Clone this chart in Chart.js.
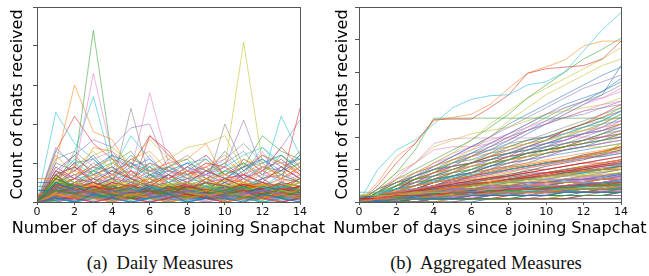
<!DOCTYPE html>
<html>
<head>
<meta charset="utf-8">
<script src="https://cdn.jsdelivr.net/npm/chart.js@4.4.1/dist/chart.umd.min.js"></script>
<style>
  body { margin:0; width:649px; height:276px; background:#fff; position:relative; overflow:hidden; font-family:"DejaVu Sans", sans-serif; }
  .plot { position:absolute; top:0; height:240px; }
  #boxA { left:0; width:320px; }
  #boxB { left:325px; width:324px; }
  .xt { position:absolute; top:218px; font-family:"DejaVu Sans", sans-serif; font-size:16px; line-height:19px; white-space:nowrap; color:#000; transform:translateX(-50%); }
  .cap { position:absolute; top:253px; font-family:"Liberation Serif", serif; font-size:18.5px; white-space:pre; color:#111; transform:translateX(-50%); }
</style>
</head>
<body>
<div class="plot" id="boxA"><canvas id="chartDaily"></canvas></div>
<div class="plot" id="boxB"><canvas id="chartAgg"></canvas></div>
<div class="xt" style="left:168.5px">Number of days since joining Snapchat</div>
<div class="xt" style="left:490px">Number of days since joining Snapchat</div>
<div class="cap" style="left:160px">(a)  Daily Measures</div>
<div class="cap" style="left:486px">(b)  Aggregated Measures</div>
<script>
// days since joining
const days = [0,1,2,3,4,5,6,7,8,9,10,11,12,13,14];
const xTicks = [0,2,4,6,8,10,12,14];
const tab10 = ['#1f77b4','#ff7f0e','#2ca02c','#d62728','#9467bd','#8c564b','#e377c2','#7f7f7f','#bcbd22','#17becf'];

// (a) daily counts, bottom mass of users
const dailyBase = [
  [0,1,0,2,1,0,1,2,0,1,1,0,2,1,0],
  [0,2,1,1,0,2,1,0,1,2,0,1,1,2,1],
  [0,3,2,1,2,1,3,2,1,2,3,1,2,1,3],
  [0,1,1,0,1,1,0,1,2,1,0,1,1,0,1],
  [0,2,3,2,1,3,2,1,3,2,1,2,3,2,1],
  [0,4,2,3,2,1,2,3,2,1,2,3,1,2,2],
  [0,1,2,1,0,1,2,1,1,0,1,2,1,1,2],
  [0,3,1,2,3,2,1,2,3,1,2,1,3,2,1],
  [0,2,2,3,1,2,2,1,2,3,2,2,1,3,2],
  [0,1,0,1,1,0,1,1,0,1,1,1,0,1,1],
  [0,5,3,2,3,2,4,2,3,2,3,2,4,3,2],
  [0,2,1,3,2,3,1,2,1,2,3,2,1,2,3],
  [0,1,3,2,1,2,1,3,2,1,2,1,2,3,1],
  [0,3,2,4,3,2,3,2,4,3,2,3,2,3,4],
  [0,0,1,0,1,0,0,1,0,1,0,1,0,0,1],
  [0,2,4,2,3,1,2,4,2,3,2,1,3,2,2],
  [0,1,2,2,3,2,1,2,2,1,3,2,2,1,2],
  [0,4,3,1,2,4,2,3,1,2,4,3,2,1,3],
  [0,2,1,2,1,1,2,1,2,2,1,2,1,2,1],
  [0,3,4,3,2,3,4,3,2,4,3,2,3,4,3],
  [0,1,1,2,2,1,1,2,1,1,2,1,1,2,2],
  [0,2,3,1,3,2,2,3,1,2,2,3,2,1,3],
  [0,6,4,2,3,3,2,4,3,2,3,4,2,3,2],
  [0,1,2,3,2,1,3,1,2,3,1,2,3,1,2],
  [0,2,0,1,2,1,1,0,1,2,1,1,2,0,1],
  [0,3,3,4,2,4,3,2,3,2,4,3,3,2,4],
  [0,1,1,1,2,2,1,1,1,2,1,2,1,1,1],
  [0,4,2,2,4,3,3,2,4,3,2,2,3,4,2],
  [0,2,3,2,2,3,1,3,2,2,3,2,1,3,2],
  [0,1,0,2,1,1,2,1,1,1,2,1,2,1,1],
  [0,3,2,1,2,2,3,2,2,3,1,2,2,3,2],
  [0,2,1,3,3,1,2,2,3,1,2,3,1,2,3],
  [0,5,4,3,4,3,2,3,4,3,4,2,3,4,3],
  [0,1,2,1,1,2,2,1,2,1,1,2,2,1,1],
  [0,2,2,2,3,2,3,3,2,2,3,2,3,2,3],
  [0,3,1,2,1,3,1,2,1,3,2,1,2,1,2],
  [0,1,3,3,2,2,1,2,3,2,2,3,1,2,2],
  [0,2,1,1,2,1,2,2,1,1,2,1,2,2,1],
  [0,4,3,2,3,4,2,3,3,4,2,3,4,2,3],
  [0,1,1,2,1,2,1,1,2,1,2,1,1,2,1],
  [3,3,2,3,2,3,2,2,3,2,3,2,3,2,2],
  [2,2,1,2,2,1,2,1,2,2,1,2,1,2,2],
  [0,2,4,3,2,2,3,2,3,3,2,4,2,3,2],
  [0,3,2,2,3,3,2,3,2,2,3,2,2,3,3],
  [0,1,2,1,2,1,1,2,1,2,1,2,1,1,2],
  [0,7,3,3,2,4,3,2,3,4,2,3,2,4,3],
  [0,2,2,1,1,2,2,2,1,2,2,1,2,2,1],
  [0,3,4,2,2,3,2,4,2,3,3,2,3,2,4],
  [0,1,1,1,1,1,2,1,1,1,1,1,2,1,1],
  [0,4,2,3,3,2,4,2,2,3,3,4,2,3,2]
];
// (a) daily counts, in-between values of the bottom mass
const dailyFill = [
  [0,1.5,2.5,1.5,2,3.5,1.5,2.5,3,1.5,2.5,3.5,2,1.5,2.5],
  [0,2.5,1.5,3.5,2.5,1.5,3,2.5,1.5,3.5,2,1.5,2.5,3,1.5],
  [0,0.5,1.5,1,0.5,1.5,1,0.5,1.5,1,0.5,1.5,1,0.5,1.5],
  [0,3.5,4.5,2.5,3.5,4,2.5,3.5,4.5,2.5,3,4.5,3.5,2.5,4],
  [0,1.5,0.5,1.5,2.5,1,1.5,2.5,1,1.5,0.5,2,1.5,2.5,1],
  [0,4.5,3.5,5,3.5,2.5,4.5,3,3.5,5,4,2.5,3.5,4.5,3],
  [0,2,2.5,1.5,3,2,2.5,1.5,2,3,2.5,1.5,2,2.5,3],
  [0,1,1.5,2.5,1,1.5,2,1,2.5,1.5,1,2,1.5,2.5,1],
  [0,5.5,3,2.5,4.5,3.5,3,4.5,2.5,3.5,4.5,3,4,2.5,3.5],
  [0,0.5,1,0.5,1,1.5,0.5,1,0.5,1.5,1,0.5,1,1.5,0.5],
  [0,3,2.5,3.5,1.5,2.5,3.5,2,3,2.5,1.5,3,3.5,2,2.5],
  [0,2.5,3.5,4.5,2.5,3,4,3.5,2.5,4,3,3.5,4.5,3,3.5],
  [0,1.5,2,1,2.5,1.5,1,2,1.5,1,2.5,1.5,2,1,1.5],
  [0,4,2.5,3,4.5,2,3.5,2.5,4,3,2.5,4,3,3.5,2.5],
  [0,0.5,0.5,1.5,0.5,1,1.5,0.5,1,0.5,1.5,0.5,1,1.5,0.5],
  [0,2,3,2,1.5,2.5,2,3,1.5,2.5,2,3,2.5,1.5,3],
  [0,3.5,1.5,2.5,3,1.5,2.5,3.5,2,1.5,3,2.5,1.5,3.5,2],
  [0,1,2.5,1.5,2,1,2.5,1.5,2,1,1.5,2.5,1,2,1.5],
  [0,6.5,5,3.5,4,5.5,3.5,4.5,3,4,5.5,3.5,4.5,3.5,5],
  [0,2.5,2,2.5,3.5,2,2.5,1.5,3,2,2.5,2,3,2.5,2],
  [0,1.5,1,2,1.5,2.5,1,1.5,2,1.5,1,2,1.5,1,2],
  [0,3,3.5,2,2.5,3,4,2.5,3.5,3,2,3.5,2.5,3,3.5],
  [0,0.5,2,1.5,1,0.5,1.5,2,0.5,1,1.5,1,0.5,2,1],
  [0,4.5,3,4,3,4.5,2.5,3.5,4,2.5,3.5,4.5,3,4,3],
  [0,2,1,1.5,2.5,1.5,2,1,1.5,2.5,2,1,2.5,1.5,2],
  [1.5,1.5,1,2,1.5,1,2,1.5,1,2,1.5,1,1.5,2,1.5],
  [0,3.5,2.5,3,2,3.5,3,2,2.5,3.5,3,2.5,2,3,2.5],
  [0,1,1.5,1,1.5,2,1,1.5,1,2,1.5,1,1.5,1,2],
  [0,5,4,3.5,5.5,4,3,4.5,5,3.5,4,5,3.5,4.5,4],
  [0,2.5,1.5,2,1,2,2.5,1.5,2,1,2.5,1.5,2,2.5,1.5]
];
// (a) daily counts, low band
const dailyLow = [
  [0,2,1,3,2,1,2,3,1,2,1,2,3,1,2],
  [0,4,3,5,2,3,4,2,3,1,2,3,2,4,3],
  [0,1,2,1,3,2,1,2,1,3,2,1,2,1,1],
  [0,6,4,3,5,4,2,3,4,2,3,5,3,2,4],
  [0,3,5,2,4,6,3,2,5,3,4,2,6,3,2],
  [0,8,5,6,3,4,5,7,4,3,6,4,5,3,6],
  [0,2,3,4,2,3,2,1,3,2,4,3,2,3,5],
  [0,5,7,4,6,3,5,4,6,5,3,4,6,7,5],
  [0,1,1,2,1,1,2,1,2,1,1,2,1,2,1],
  [0,3,2,6,4,2,3,5,2,4,3,2,4,3,2],
  [5,5,3,4,3,5,4,3,4,2,5,3,4,2,3],
  [6,6,4,5,7,4,6,5,3,4,6,5,4,6,5],
  [4,4,3,2,4,3,2,4,3,5,2,3,4,2,3],
  [0,7,9,5,8,6,4,7,5,8,6,7,5,9,6],
  [0,2,4,3,1,2,3,2,4,3,2,1,3,2,4],
  [0,4,2,3,5,3,2,4,2,3,5,2,3,4,2],
  [0,9,6,4,7,5,8,6,9,7,5,6,8,5,7],
  [0,1,3,2,2,4,1,3,2,2,1,3,2,3,2],
  [0,3,4,7,3,5,6,3,4,6,3,5,4,3,6],
  [0,5,3,2,4,2,3,2,5,2,3,4,2,5,3],
  [0,2,2,1,2,3,2,2,1,2,3,2,1,2,2],
  [0,6,8,6,10,7,5,6,8,6,7,5,8,6,9],
  [0,3,1,2,3,1,2,3,2,1,2,3,1,2,3],
  [0,4,6,5,3,8,4,5,3,6,4,7,5,4,6],
  [0,1,2,3,1,2,1,2,3,1,2,1,2,1,2],
  [0,2,5,4,6,3,7,4,5,3,6,4,3,5,4],
  [0,5,4,6,5,4,3,6,4,5,4,3,5,4,3],
  [0,1,0,1,2,1,0,1,1,2,1,0,1,1,0],
  [0,3,3,2,3,4,3,2,3,3,2,4,3,2,3],
  [0,7,4,8,5,6,9,5,7,4,8,6,4,7,5],
  [0,2,1,2,1,2,1,1,2,1,2,1,2,1,2],
  [0,4,5,3,4,2,5,3,4,6,3,4,5,3,4],
  [0,0,1,1,0,1,1,0,1,0,1,1,0,1,1],
  [0,6,3,4,6,5,3,4,2,5,4,6,3,5,4],
  [0,2,3,2,4,2,3,4,2,3,2,3,4,2,3],
  [0,3,2,4,3,2,4,2,3,2,4,2,3,4,2],
  [0,8,6,9,4,7,5,8,6,7,9,5,7,6,8],
  [0,1,2,2,1,3,2,1,2,2,1,2,2,1,2],
  [0,5,6,3,5,4,6,3,5,4,3,6,4,5,3],
  [0,2,4,5,3,2,4,3,2,4,3,2,5,3,4]
];
// (a) daily counts, middle band
const dailyMid = [
  [0,10,8,12,6,9,11,7,10,8,6,9,11,8,12],
  [0,12,7,9,11,5,8,10,6,9,12,7,10,6,9],
  [0,6,11,8,10,13,7,9,11,6,8,10,7,12,8],
  [0,8,12,7,9,6,10,8,7,10,9,6,8,11,7],
  [0,14,9,6,8,10,6,11,8,7,5,8,12,9,6],
  [0,9,6,10,7,11,9,6,9,12,7,10,6,8,13],
  [0,5,8,11,13,7,12,6,8,9,11,7,9,10,8],
  [0,11,13,9,7,8,6,9,12,8,10,13,7,9,11],
  [0,7,9,13,8,6,9,12,7,5,8,11,9,7,10],
  [0,13,10,7,12,9,7,8,10,11,6,9,10,12,9],
  [0,8,6,9,12,10,8,6,9,7,13,8,11,7,12],
  [0,6,9,7,6,11,13,8,6,10,7,9,12,10,7]
];
// (a) daily counts, users with spikes
const dailyPeaks = [
  [0,3,9,44,11,6,4,7,3,5,2,4,6,3,5],
  [0,2,4,3,5,3,6,4,5,8,9,41,10,6,4],
  [0,5,8,33,12,6,9,4,3,6,5,7,3,4,6],
  [0,10,30,18,16,8,5,6,4,3,6,4,5,3,7],
  [0,4,13,27,9,5,7,6,3,4,5,8,4,6,5],
  [0,23,15,11,6,7,10,5,6,3,4,3,6,22,12],
  [0,13,22,15,11,9,17,12,8,5,6,4,3,5,24],
  [0,2,5,7,4,24,6,3,5,4,20,9,6,8,5],
  [0,3,4,6,5,8,28,10,5,12,7,6,13,5,9],
  [0,7,12,16,14,19,20,8,10,6,9,21,8,14,21],
  [0,6,10,5,4,3,17,13,7,9,5,11,8,14,9],
  [0,5,8,12,14,10,16,11,14,15,17,8,12,10,7],
  [0,4,6,14,13,9,8,10,11,15,6,5,9,7,10],
  [0,3,5,8,6,10,7,5,8,11,7,9,17,13,11],
  [0,6,10,11,7,12,8,9,6,7,10,6,9,8,10],
  [0,4,6,9,8,17,11,6,9,5,8,7,14,9,6],
  [0,5,7,8,12,6,5,9,7,8,11,15,10,12,8],
  [0,3,6,7,9,4,6,8,5,7,9,12,14,10,11]
];
const dailyPeakColors = [2,8,6,1,9,9,3,7,6,4,3,8,1,2,0,9,7,9];

// (b) cumulative counts, bottom mass of users
const aggBase = [
  [0,0,1,1,1,1,2,2,2,2,2,3,3,3,3],
  [0,1,1,1,2,2,2,3,3,3,3,4,4,4,5],
  [0,0,0,1,1,1,1,1,1,2,2,2,2,2,3],
  [1,1,2,2,2,3,3,3,4,4,4,5,5,5,6],
  [0,1,1,2,2,2,3,3,4,4,4,5,5,6,6],
  [0,0,0,0,0,0,1,1,1,1,1,1,1,1,1],
  [0,1,2,2,2,3,3,4,4,5,5,5,6,6,7],
  [0,0,1,1,1,2,2,2,2,3,3,3,3,4,4],
  [2,2,2,3,3,3,3,4,4,4,5,5,5,5,6],
  [0,1,1,1,1,2,2,2,3,3,3,3,4,4,4],
  [0,0,0,1,1,1,1,2,2,2,2,2,3,3,3],
  [0,1,2,3,3,3,4,4,5,5,6,6,6,7,7],
  [0,0,1,1,2,2,2,2,2,3,3,3,4,4,4],
  [1,1,1,1,2,2,2,2,3,3,3,3,3,4,4],
  [0,0,0,0,1,1,1,1,1,1,2,2,2,2,2],
  [0,1,1,2,2,3,3,3,4,4,5,5,5,6,6],
  [0,0,1,1,1,1,1,2,2,2,2,2,2,3,3],
  [0,1,2,2,3,3,4,4,4,5,5,6,6,7,7],
  [0,0,0,0,0,1,1,1,1,1,1,2,2,2,2],
  [0,1,1,1,2,2,2,3,3,3,4,4,4,4,5],
  [1,2,2,3,3,3,4,4,5,5,5,6,6,6,7],
  [0,0,1,1,1,2,2,2,3,3,3,3,3,4,4],
  [0,1,1,2,2,2,3,3,3,4,4,4,5,5,5],
  [0,0,0,1,1,1,1,1,2,2,2,2,2,2,3],
  [0,1,2,2,3,4,4,5,5,6,6,7,7,7,8],
  [0,0,0,0,1,1,1,1,1,1,1,1,2,2,2],
  [0,1,1,1,1,1,2,2,2,2,3,3,3,3,3],
  [2,2,3,3,3,4,4,4,5,5,5,6,6,6,7],
  [0,0,1,1,2,2,2,3,3,3,3,4,4,4,5],
  [0,1,1,2,2,3,3,4,4,4,5,5,6,6,6],
  [0,0,0,0,0,0,0,1,1,1,1,1,1,1,1],
  [0,1,2,2,2,3,3,3,4,4,4,5,5,5,6],
  [0,0,1,1,1,1,2,2,2,2,3,3,3,3,4],
  [1,1,1,2,2,2,2,3,3,3,3,4,4,4,4],
  [0,1,1,2,3,3,3,4,4,5,5,5,6,6,7],
  [0,0,0,1,1,1,2,2,2,2,2,3,3,3,3],
  [0,1,2,3,3,4,4,4,5,5,6,6,7,7,8],
  [0,0,1,1,1,2,2,2,2,2,3,3,3,3,3],
  [0,1,1,1,2,2,2,2,3,3,3,4,4,4,4],
  [0,0,0,0,1,1,1,2,2,2,2,2,2,2,3]
];
// (b) cumulative counts, in-between values of the bottom mass
const aggFill = [
  [0,0.5,1,1.5,2.5,3,3.5,4,4.5,5.5,6,6.5,7,7.5,8.5],
  [0,1.5,2.5,3,3.5,4.5,5,6,6.5,7,8,8.5,9.5,10,10.5],
  [0.5,1,1.5,2,2.5,2.5,3,3.5,3.5,4,4.5,4.5,5,5.5,5.5],
  [0,1,2.5,3.5,4.5,5.5,6.5,7.5,8,9,10,11,12,13,14],
  [0,0.5,0.5,1,1.5,1.5,2,2.5,2.5,3,3.5,3.5,4,4,4.5],
  [1.5,2,2.5,3.5,4,5,5.5,6,7,7.5,8,9,9.5,10,11],
  [0,1.5,3,4,5,6,7.5,8.5,9.5,10.5,11.5,12.5,13.5,14.5,15.5],
  [0,0.5,1,1,1.5,2,2,2.5,3,3,3.5,3.5,4,4.5,5.5],
  [0,1,1.5,2.5,3,4,4.5,5.5,6,6.5,7.5,8,8.5,9.5,10],
  [0.5,1,2,2.5,3.5,4,5,5.5,6.5,7,8,8.5,9,10,11.5],
  [0,0.5,1,2,2.5,3,3.5,3.5,4,4.5,5,5,5.5,6,6.5],
  [0,2,3.5,5,6,7,8,9.5,10.5,11.5,12.5,13,14,15.5,16.5],
  [0,1,1.5,2,2,2.5,3,3.5,4,4,4.5,5,5.5,5.5,6],
  [0,0.5,1.5,2.5,3.5,4.5,5.5,6,7,8,9,9.5,10.5,11.5,12.5],
  [1,1.5,2,2.5,3,3.5,4,4.5,4.5,5,5.5,6,6.5,7,7.5],
  [0,1,2,3,4.5,5.5,6.5,7.5,8.5,9.5,11,12,13,14.5,16],
  [0,0.5,0.5,1,1,1.5,1.5,2,2,2.5,2.5,3,3,3.5,3.5],
  [0,1.5,2.5,3.5,4.5,5,6,7,7.5,8.5,9,10,10.5,11.5,12],
  [0.5,1,1.5,2,3,3.5,4,5,5.5,6,6.5,7,8,8.5,9],
  [0,2.5,4,5,6.5,7.5,8.5,9,10,11,12,12.5,13.5,14,15],
  [0,0.5,1,1.5,2,2,2.5,3,3.5,4,4,4.5,5,5,5.5],
  [0,1,2,3,3.5,4.5,5.5,6.5,7,8,9,10,11,12,13],
  [1.5,1.5,2,2.5,2.5,3,3.5,3.5,4,4.5,4.5,5,5.5,5.5,6],
  [0,1,1.5,2.5,3.5,4,5,6,7,7.5,8.5,9.5,10,11,11.5],
  [0,0.5,1,1,1.5,1.5,2,2.5,2.5,3,3,3.5,4,4,4.5],
  [0,2,3,4,5,6.5,7.5,8.5,10,11,12,13,14.5,15.5,17],
  [0,1,1.5,2,3,3.5,4,4.5,5,6,6.5,7,7.5,8,8.5],
  [0.5,1,2,3,3.5,4.5,5,6,6.5,7.5,8,9,9.5,10.5,11],
  [0,1.5,2.5,4,5,6,7,8,9,10.5,11.5,12.5,13.5,14.5,18],
  [0,0.5,1,1.5,1.5,2,2.5,3,3,3.5,4,4.5,4.5,5,6.5]
];
// (b) cumulative counts, low band
const aggLow = [
  [0,1,1,2,3,3,4,4,5,6,6,7,7,8,9],
  [0,0,1,1,1,2,2,2,3,3,3,4,4,4,5],
  [0,1,2,3,4,4,5,6,7,7,8,9,10,10,11],
  [0,0,0,1,1,1,1,2,2,2,2,3,3,3,3],
  [1,2,3,3,4,5,6,6,7,8,8,9,10,11,12],
  [0,1,1,2,2,3,3,3,4,4,5,5,5,6,6],
  [0,1,2,2,3,4,4,5,5,6,7,7,8,8,9],
  [2,2,3,3,4,4,5,5,6,6,6,7,7,8,8],
  [0,0,1,1,2,2,2,3,3,3,4,4,4,5,5],
  [0,1,2,3,3,4,5,6,6,7,8,9,9,10,11],
  [0,0,0,0,1,1,1,1,1,2,2,2,2,2,2],
  [0,1,1,2,3,3,4,5,5,6,6,7,8,8,9],
  [1,1,2,2,2,3,3,4,4,4,5,5,6,6,6],
  [0,1,2,4,5,6,7,7,8,9,10,11,12,12,13],
  [0,0,1,1,1,1,2,2,2,2,3,3,3,3,4],
  [0,1,1,1,2,2,3,3,3,4,4,4,5,5,5],
  [0,2,3,4,4,5,6,7,7,8,9,9,10,11,12],
  [0,0,0,1,1,1,2,2,2,3,3,3,3,4,4],
  [0,1,2,2,3,3,4,4,5,5,6,6,7,7,8],
  [3,3,4,4,5,5,5,6,6,7,7,7,8,8,9],
  [0,0,1,2,2,3,3,4,4,5,5,5,6,6,7],
  [0,1,1,1,1,2,2,2,2,3,3,3,3,3,4],
  [0,1,3,4,5,5,6,7,8,8,9,10,11,11,12],
  [0,0,0,0,0,1,1,1,1,1,1,1,2,2,2],
  [0,1,2,3,3,4,4,5,6,6,7,8,8,9,10],
  [0,0,1,1,2,2,3,3,4,4,4,5,5,6,6],
  [1,1,1,2,2,2,3,3,3,3,4,4,4,4,5],
  [0,1,2,2,3,4,5,5,6,7,7,8,9,9,10],
  [0,0,0,1,1,1,1,1,2,2,2,2,2,3,3],
  [0,1,2,3,4,4,5,6,6,7,8,8,9,10,10],
  [0,0,1,1,1,2,2,3,3,3,4,4,5,5,5],
  [2,3,3,4,4,5,6,6,7,7,8,8,9,10,10],
  [0,0,0,0,1,1,1,1,1,1,1,2,2,2,2],
  [0,1,1,2,2,3,3,4,4,5,5,6,6,7,7],
  [0,1,2,3,5,6,6,7,8,9,9,10,11,12,13],
  [0,0,1,1,1,1,2,2,2,3,3,3,4,4,4],
  [0,1,1,2,3,3,3,4,5,5,6,6,6,7,8],
  [0,0,0,1,1,2,2,2,3,3,3,3,4,4,4],
  [1,2,2,3,3,4,4,5,5,5,6,6,7,7,8],
  [0,0,1,1,2,2,2,2,3,3,3,4,4,4,5]
];
// (b) cumulative counts, middle band
const aggMid = [
  [0,2,4,5,7,8,9,11,12,13,15,16,17,19,20],
  [0,1,3,5,6,7,9,10,11,12,13,14,15,16,17],
  [0,3,5,7,8,9,10,12,13,15,16,17,18,19,21],
  [0,2,3,4,6,7,8,9,10,11,12,13,14,14,15],
  [0,1,2,4,5,7,8,10,11,13,14,16,17,18,19],
  [0,3,6,8,10,11,12,13,14,15,16,17,18,19,20],
  [0,2,4,5,6,8,9,10,12,13,14,16,18,20,22],
  [0,1,2,3,5,5,6,7,8,10,10,11,12,13,14],
  [0,2,5,7,9,10,11,12,13,14,15,16,17,17,18],
  [0,4,6,8,10,11,12,13,15,16,17,18,19,21,23],
  [0,1,3,4,5,7,8,9,11,12,14,15,16,17,18],
  [0,2,3,5,7,9,11,12,13,14,15,17,19,21,24],
  [0,3,4,6,7,8,9,10,11,11,12,13,14,15,16],
  [0,2,4,7,9,11,12,14,15,16,17,18,19,20,21],
  [0,1,3,5,7,8,9,11,13,14,15,16,17,18,19],
  [0,2,3,4,5,6,8,9,10,11,12,13,14,15,17],
  [0,2,4,6,8,9,11,13,14,15,17,19,21,23,25],
  [0,1,3,4,6,8,10,12,14,15,16,18,20,22,24],
  [0,3,6,8,10,12,13,14,16,18,19,20,22,24,27],
  [0,2,3,5,6,8,10,13,15,17,19,21,23,25,28],
  [0,1,2,4,6,7,9,11,13,16,18,20,21,23,26],
  [0,4,7,9,11,13,14,15,17,18,19,21,22,23,24],
  [0,2,5,7,8,10,12,14,17,19,20,22,24,26,29],
  [0,1,2,3,5,7,9,12,14,17,19,22,24,27,30],
  [0,3,5,6,8,10,11,13,15,16,18,19,21,22,23],
  [0,2,4,5,7,9,10,12,13,15,16,18,19,21,22],
  [0,1,3,6,9,11,12,14,16,17,18,20,21,22,25],
  [0,2,4,6,9,12,14,16,18,19,21,23,25,27,29],
  [0,3,4,6,7,9,12,14,15,16,18,20,23,25,26],
  [0,1,2,4,5,6,8,10,13,15,17,20,22,24,27],
  [0,2,5,8,10,12,13,15,16,18,20,21,23,25,28],
  [0,1,3,5,6,8,9,11,12,14,15,17,18,19,21],
  [0,2,3,4,6,8,9,11,13,14,16,17,19,20,22],
  [0,4,6,7,9,10,12,13,15,17,19,22,24,26,28],
  [0,1,2,3,4,6,8,10,12,14,17,19,21,24,27],
  [0,2,5,6,7,9,11,12,14,15,16,17,19,21,23],
  [0,1,3,5,7,10,12,14,16,18,20,22,24,25,26],
  [0,3,6,9,11,13,15,16,17,19,20,22,23,24,25],
  [0,2,4,5,7,8,9,10,12,13,15,16,17,18,20],
  [0,1,2,4,6,8,10,11,13,15,16,17,18,20,21],
  [0,2,3,5,8,10,12,14,15,17,18,19,21,22,24]
];
// (b) cumulative counts, heaviest users
const aggTop = [
  [0,10,16,19,24,29,31.6,32.7,33,36,37,40,46.5,53,58.3],
  [0,5,12,18,25.4,25.5,25.5,29,33,39.6,41,41.5,42,44,49.5],
  [0,6,14,18,25,26,27,30,35,39.6,41.6,43.7,48,49.5,49.5],
  [0,3,7,10,13,16,19,23,27,32,36,40,44,47,50.4],
  [0,4,9,16,25.8,25.8,25.8,25.8,25.8,25.8,25.8,25.8,25.8,25.8,25.8],
  [0,2,5,9,12,15,19,24,28,32,35,38,41,44,47.5],
  [0,2,4,6,9,13,16,20,25,29,33,36,39,42,44],
  [0,2,5,8,11,14,17,20,24,27,30,33,36,39,41.5],
  [0,1,4,7,9,12,15,18,21,24,27,30,32,34,37],
  [0,3,8,12,16,17,17,18,20,22,24,27,30,32,35],
  [0,2,5,8,12,15,17,19,21,23,25,26,28,30,31],
  [0,1,3,6,9,11,14,17,19,22,24,26,27,29,31],
  [0,2,4,7,10,13,15,17,20,22,24,26,28,29,30],
  [0,4,9,12,17,19,21,22,23,25,27,28,29,30,32],
  [0,3,7,12,18,19.5,19.7,19.7,19.7,19.7,20,20,20,20,20],
  [0,2,4,7,11,14,17,20,23,26,29,32,35,37,39],
  [0,1,3,5,8,11,14,17,20,23,26,29,31,33,36],
  [0,3,6,9,12,14,16,18,21,24,27,29,31,32,34],
  [0,2,5,8,10,12,14,16,19,22,25,28,31,34,38],
  [0,1,2,4,6,9,12,15,18,21,24,27,30,33,42]
];
const aggTopColors = [9,3,1,2,2,8,8,0,0,6,6,4,7,8,6,4,7,6,0,0];

function withAlpha(hex, a){
  const n = parseInt(hex.slice(1), 16);
  return `rgba(${n>>16},${(n>>8)&255},${n&255},${a})`;
}

// groups: [rows, colorIndexes|null, alpha, width]
function toDatasets(groups){
  const out = [];
  let k = 0;
  groups.forEach(([rows, colors, alpha, width]) => {
    rows.forEach((vals, i) => {
      const c = colors ? colors[i] : (k % 10);
      k++;
      out.push({
        data: days.map((d, j) => ({ x: d, y: vals[j] })),
        borderColor: withAlpha(tab10[c], alpha),
        borderWidth: width,
        pointRadius: 0,
        fill: false,
        tension: 0
      });
    });
  });
  return out;
}

const frame = {
  id: 'frame',
  afterDatasetsDraw(chart){
    const { ctx, chartArea: a } = chart;
    ctx.save();
    ctx.strokeStyle = '#555';
    ctx.lineWidth = 1;
    ctx.strokeRect(Math.round(a.left) + 0.5, Math.round(a.top) + 0.5, Math.round(a.right - a.left), Math.round(a.bottom - a.top));
    ctx.restore();
  }
};

function makeChart(id, groups, yMax, axisWidth, padRight){
  return new Chart(document.getElementById(id), {
    type: 'line',
    data: { datasets: toDatasets(groups) },
    options: {
      responsive: true, maintainAspectRatio: false, animation: false,
      layout: { padding: { top: 7, right: padRight, left: 0, bottom: 0 } },
      plugins: { legend: { display: false }, tooltip: { enabled: false } },
      scales: {
        x: {
          type: 'linear', min: 0, max: 14,
          afterBuildTicks: s => { s.ticks = xTicks.map(v => ({ value: v })); },
          ticks: { color: '#111', font: { family: 'DejaVu Sans', size: 11 }, padding: 1, maxRotation: 0 },
          grid: { drawOnChartArea: false, drawTicks: true, tickLength: 3, color: '#555' },
          border: { display: false },
          afterFit: s => { s.height = 38; }
        },
        y: {
          min: 0, max: yMax,
          ticks: { display: false, stepSize: 10 },
          grid: { drawOnChartArea: false, drawTicks: true, tickLength: 4, color: '#555' },
          border: { display: false },
          title: { display: true, text: 'Count of chats received', color: '#000', font: { family: 'DejaVu Sans', size: 16 }, padding: { top: 8, bottom: 0 } },
          afterFit: s => { s.width = axisWidth; }
        }
      }
    },
    plugins: [frame]
  });
}

makeChart('chartDaily', [[dailyBase, null, 0.75, 1.2], [dailyFill, null, 0.75, 1.2], [dailyLow, null, 0.65, 1], [dailyMid, null, 0.55, 1], [dailyPeaks, dailyPeakColors, 0.55, 1]], 50, 37, 20);
makeChart('chartAgg', [[aggBase, null, 0.75, 1.2], [aggFill, null, 0.75, 1.2], [aggLow, null, 0.65, 1], [aggMid, null, 0.55, 1], [aggTop, aggTopColors, 0.55, 1]], 60, 34, 28);
</script>
</body>
</html>
